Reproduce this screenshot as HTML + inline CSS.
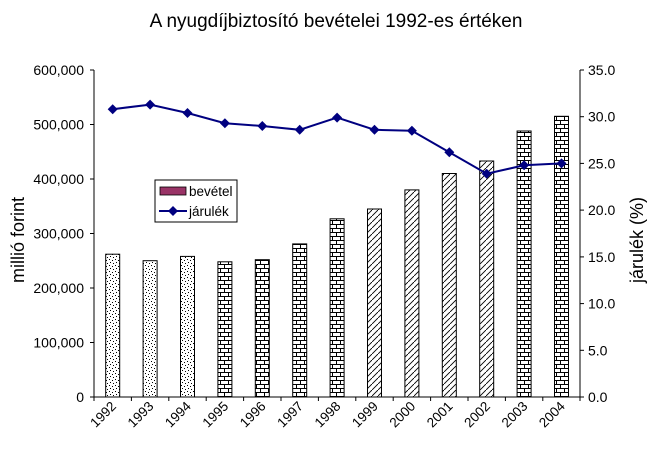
<!DOCTYPE html>
<html><head><meta charset="utf-8"><style>
body{margin:0;background:#fff}
svg{display:block;font-family:"Liberation Sans",sans-serif}
</style></head><body>
<svg width="670" height="460" viewBox="0 0 670 460">
<defs>
<pattern id="dots" width="6" height="6" patternUnits="userSpaceOnUse">
<rect width="6" height="6" fill="#fff"/>
<rect x="1" y="1" width="1" height="1" fill="#000"/><rect x="4" y="2" width="1" height="1" fill="#000"/>
<rect x="2" y="4" width="1" height="1" fill="#000"/><rect x="5" y="5" width="1" height="1" fill="#000"/>
</pattern>
<pattern id="brick" width="8" height="8" patternUnits="userSpaceOnUse">
<rect width="8" height="8" fill="#fff"/>
<rect x="0" y="0" width="8" height="1" fill="#000"/><rect x="0" y="4" width="8" height="1" fill="#000"/>
<rect x="0" y="0" width="1" height="4" fill="#000"/><rect x="4" y="4" width="1" height="4" fill="#000"/>
</pattern>
<pattern id="hatch" width="6" height="6" patternUnits="userSpaceOnUse">
<rect width="6" height="6" fill="#fff"/>
<path d="M0,6 L6,0" stroke="#000" stroke-width="0.9"/>
</pattern>
</defs>
<text x="336" y="27" font-size="19" text-anchor="middle">A nyugdíjbiztosító bevételei 1992-es értéken</text>
<g stroke="#000" stroke-width="1">
<line x1="94" y1="70" x2="94" y2="397"/>
<line x1="580" y1="70" x2="580" y2="397"/>
<line x1="94" y1="397" x2="580" y2="397"/>
<line x1="90" y1="70" x2="94" y2="70"/><line x1="90" y1="124.5" x2="94" y2="124.5"/><line x1="90" y1="179" x2="94" y2="179"/><line x1="90" y1="233.5" x2="94" y2="233.5"/><line x1="90" y1="288" x2="94" y2="288"/><line x1="90" y1="342.5" x2="94" y2="342.5"/><line x1="90" y1="397" x2="94" y2="397"/>
<line x1="580" y1="70" x2="584" y2="70"/><line x1="580" y1="116.7" x2="584" y2="116.7"/><line x1="580" y1="163.4" x2="584" y2="163.4"/><line x1="580" y1="210.1" x2="584" y2="210.1"/><line x1="580" y1="256.9" x2="584" y2="256.9"/><line x1="580" y1="303.6" x2="584" y2="303.6"/><line x1="580" y1="350.3" x2="584" y2="350.3"/><line x1="580" y1="397" x2="584" y2="397"/>
<line x1="94" y1="397" x2="94" y2="401"/><line x1="131.4" y1="397" x2="131.4" y2="401"/><line x1="168.8" y1="397" x2="168.8" y2="401"/><line x1="206.2" y1="397" x2="206.2" y2="401"/><line x1="243.6" y1="397" x2="243.6" y2="401"/><line x1="281" y1="397" x2="281" y2="401"/><line x1="318.4" y1="397" x2="318.4" y2="401"/><line x1="355.8" y1="397" x2="355.8" y2="401"/><line x1="393.2" y1="397" x2="393.2" y2="401"/><line x1="430.6" y1="397" x2="430.6" y2="401"/><line x1="468" y1="397" x2="468" y2="401"/><line x1="505.4" y1="397" x2="505.4" y2="401"/><line x1="542.8" y1="397" x2="542.8" y2="401"/><line x1="580" y1="397" x2="580" y2="401"/>
</g>
<g font-size="14" text-anchor="end">
<text x="84" y="75">600,000</text><text x="84" y="129.5">500,000</text><text x="84" y="184">400,000</text><text x="84" y="238.5">300,000</text><text x="84" y="293">200,000</text><text x="84" y="347.5">100,000</text><text x="84" y="402">0</text>
</g>
<g font-size="14" text-anchor="start">
<text x="588" y="75">35.0</text><text x="588" y="121.7">30.0</text><text x="588" y="168.4">25.0</text><text x="588" y="215.1">20.0</text><text x="588" y="261.9">15.0</text><text x="588" y="308.6">10.0</text><text x="588" y="355.3">5.0</text><text x="588" y="402">0.0</text>
</g>
<text transform="translate(24,240) rotate(-90)" font-size="18" text-anchor="middle">millió forint</text>
<text transform="translate(643,240) rotate(-90)" font-size="18" text-anchor="middle">járulék (%)</text>
<g stroke="#000" stroke-width="1">
<rect x="105.7" y="254.2" width="14" height="142.8" fill="url(#dots)"/>
<rect x="143.1" y="260.7" width="14" height="136.3" fill="url(#dots)"/>
<rect x="180.5" y="256.4" width="14" height="140.6" fill="url(#dots)"/>
<rect x="217.9" y="261.8" width="14" height="135.2" fill="url(#brick)"/>
<rect x="255.3" y="259.7" width="14" height="137.3" fill="url(#brick)"/>
<rect x="292.7" y="243.9" width="14" height="153.1" fill="url(#brick)"/>
<rect x="330.1" y="218.8" width="14" height="178.2" fill="url(#brick)"/>
<rect x="367.5" y="209" width="14" height="188" fill="url(#hatch)"/>
<rect x="404.9" y="189.9" width="14" height="207.1" fill="url(#hatch)"/>
<rect x="442.3" y="173.5" width="14" height="223.5" fill="url(#hatch)"/>
<rect x="479.7" y="161" width="14" height="236" fill="url(#hatch)"/>
<rect x="517.1" y="131" width="14" height="266" fill="url(#brick)"/>
<rect x="554.5" y="116.3" width="14" height="280.7" fill="url(#brick)"/>
</g>
<polyline fill="none" stroke="#000080" stroke-width="2" points="112.7,109.2 150.1,104.6 187.5,113 224.9,123.2 262.3,126 299.7,129.8 337.1,117.6 374.5,129.8 411.9,130.7 449.3,152.2 486.7,173.7 524.1,165.3 561.5,163.4"/>
<g fill="#000080">
<path d="M112.7,104.2l5,5l-5,5l-5,-5z"/><path d="M150.1,99.6l5,5l-5,5l-5,-5z"/><path d="M187.5,108l5,5l-5,5l-5,-5z"/><path d="M224.9,118.2l5,5l-5,5l-5,-5z"/><path d="M262.3,121l5,5l-5,5l-5,-5z"/><path d="M299.7,124.8l5,5l-5,5l-5,-5z"/><path d="M337.1,112.6l5,5l-5,5l-5,-5z"/><path d="M374.5,124.8l5,5l-5,5l-5,-5z"/><path d="M411.9,125.7l5,5l-5,5l-5,-5z"/><path d="M449.3,147.2l5,5l-5,5l-5,-5z"/><path d="M486.7,168.7l5,5l-5,5l-5,-5z"/><path d="M524.1,160.3l5,5l-5,5l-5,-5z"/><path d="M561.5,158.4l5,5l-5,5l-5,-5z"/>
</g>
<rect x="155" y="180" width="82" height="42" fill="#fff" stroke="#000"/>
<rect x="160" y="187" width="26" height="8" fill="#993366" stroke="#000" stroke-width="0.8"/>
<text x="189" y="196" font-size="13.5">bevétel</text>
<line x1="159" y1="211" x2="187" y2="211" stroke="#000080" stroke-width="2"/>
<path d="M173,206l5,5l-5,5l-5,-5z" fill="#000080"/>
<text x="189" y="216" font-size="13.5">járulék</text>
<g font-size="13.5" text-anchor="end">
<text transform="translate(117,407) rotate(-45)">1992</text>
<text transform="translate(154.4,407) rotate(-45)">1993</text>
<text transform="translate(191.8,407) rotate(-45)">1994</text>
<text transform="translate(229.2,407) rotate(-45)">1995</text>
<text transform="translate(266.6,407) rotate(-45)">1996</text>
<text transform="translate(304,407) rotate(-45)">1997</text>
<text transform="translate(341.4,407) rotate(-45)">1998</text>
<text transform="translate(378.8,407) rotate(-45)">1999</text>
<text transform="translate(416.2,407) rotate(-45)">2000</text>
<text transform="translate(453.6,407) rotate(-45)">2001</text>
<text transform="translate(491,407) rotate(-45)">2002</text>
<text transform="translate(528.4,407) rotate(-45)">2003</text>
<text transform="translate(565.8,407) rotate(-45)">2004</text>
</g>
</svg>
</body></html>
